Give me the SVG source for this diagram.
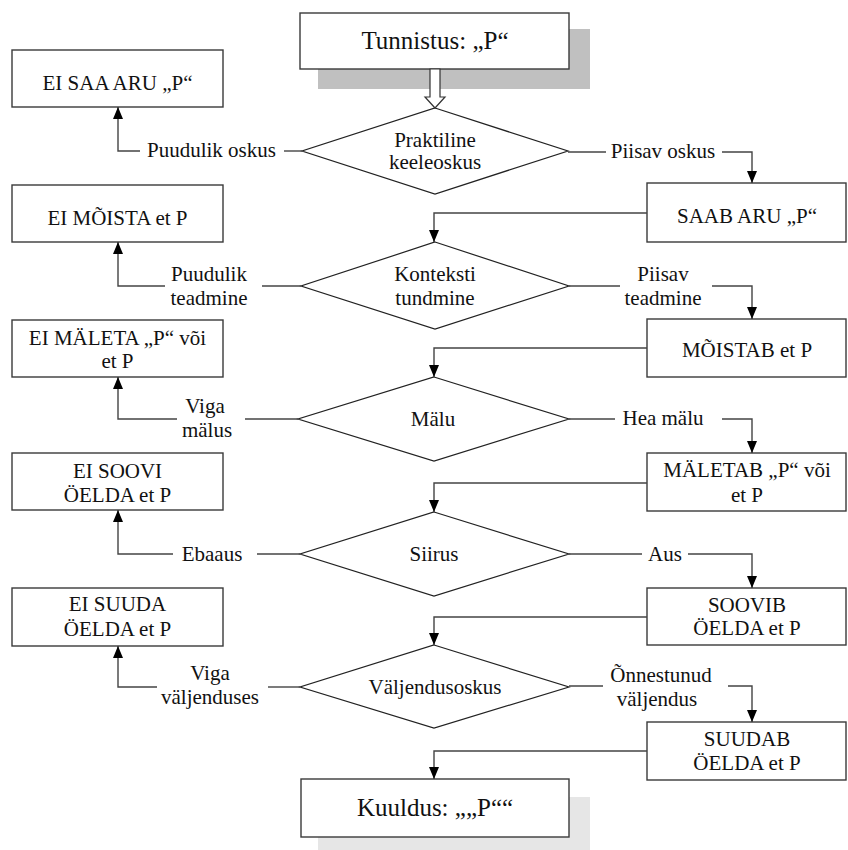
<svg xmlns="http://www.w3.org/2000/svg" width="848" height="850" viewBox="0 0 848 850">
<defs>
<style>
.box{fill:#fff;stroke:#3a3a3a;stroke-width:1.4}
.dia{fill:#fff;stroke:#222;stroke-width:1.2}
.ln{fill:none;stroke:#444;stroke-width:1.4}
text{font-size:21px;fill:#111;text-anchor:middle}
.big{font-size:25px}
</style>
<marker id="ah" markerUnits="userSpaceOnUse" markerWidth="12" markerHeight="12" viewBox="0 0 12 12" refX="12" refY="6" orient="auto">
<path d="M0,1 L12,6 L0,11 z" fill="#000"/>
</marker>
</defs>
<rect width="848" height="850" fill="#fff"/>
<g font-family="'Liberation Serif', 'DejaVu Serif', serif">

<g id="start">
<rect x="318" y="29" width="272" height="60" fill="#c0c0c0"/>
<rect class="box" x="300" y="13" width="269" height="56"/>
<text class="big" x="435" y="49">Tunnistus: „P“</text>
</g>

<g id="end">
<rect x="318" y="797" width="272" height="53" fill="#e6e6e6"/>
<rect class="box" x="301" y="779" width="268" height="58"/>
<text class="big" x="435" y="816">Kuuldus: „„P““</text>
</g>

<g id="d1">
<polygon class="dia" points="435,108 568,151 435,194 302,151"/>
<text x="435" y="147">Praktiline</text>
<text x="435" y="169">keeleoskus</text>
</g>
<g id="d2">
<polygon class="dia" points="435,242 569,286 435,329 301,286"/>
<text x="435" y="281">Konteksti</text>
<text x="435" y="305">tundmine</text>
</g>
<g id="d3">
<polygon class="dia" points="434,377 569,419 434,461 298,419"/>
<text x="433" y="426">Mälu</text>
</g>
<g id="d4">
<polygon class="dia" points="434,512 569,554 434,596 300,554"/>
<text x="434" y="561">Siirus</text>
</g>
<g id="d5">
<polygon class="dia" points="434,645 569,687 434,728 300,687"/>
<text x="435" y="694">Väljendusoskus</text>
</g>

<g id="l1"><rect class="box" x="12" y="50" width="211" height="57"/><text x="117.5" y="90">EI SAA ARU „P“</text></g>
<g id="l2"><rect class="box" x="12" y="185" width="211" height="57"/><text x="117.5" y="225">EI MÕISTA et P</text></g>
<g id="l3"><rect class="box" x="12" y="320" width="211" height="57"/><text x="117.5" y="345">EI MÄLETA „P“ või</text><text x="117.5" y="368">et P</text></g>
<g id="l4"><rect class="box" x="12" y="453" width="211" height="57"/><text x="117.5" y="478">EI SOOVI</text><text x="117.5" y="502">ÖELDA et P</text></g>
<g id="l5"><rect class="box" x="12" y="588" width="211" height="58"/><text x="117.5" y="611">EI SUUDA</text><text x="117.5" y="636">ÖELDA et P</text></g>

<g id="r1"><rect class="box" x="647" y="183" width="199" height="59"/><text x="747" y="223">SAAB ARU „P“</text></g>
<g id="r2"><rect class="box" x="647" y="319" width="199" height="58"/><text x="747" y="357">MÕISTAB et P</text></g>
<g id="r3"><rect class="box" x="647" y="453" width="199" height="58"/><text x="747" y="477">MÄLETAB „P“ või</text><text x="747" y="502">et P</text></g>
<g id="r4"><rect class="box" x="647" y="588" width="199" height="57"/><text x="747" y="612">SOOVIB</text><text x="747" y="635">ÖELDA et P</text></g>
<g id="r5"><rect class="box" x="647" y="722" width="199" height="58"/><text x="747" y="746">SUUDAB</text><text x="747" y="770">ÖELDA et P</text></g>

<g id="connectors">
<polygon points="430,69 440,69 440,97 445,97 435,108 425,97 430,97" fill="#fff" stroke="#333" stroke-width="1.2"/>

<polyline class="ln" points="647,213 434,213 434,242" marker-end="url(#ah)"/>
<polyline class="ln" points="647,348 434,348 434,377" marker-end="url(#ah)"/>
<polyline class="ln" points="647,483 434,483 434,512" marker-end="url(#ah)"/>
<polyline class="ln" points="647,617 434,617 434,645" marker-end="url(#ah)"/>
<polyline class="ln" points="647,751 434,751 434,779" marker-end="url(#ah)"/>

<line class="ln" x1="568" y1="152" x2="606" y2="152"/>
<polyline class="ln" points="722,152 752,152 752,183" marker-end="url(#ah)"/>
<text x="663" y="158">Piisav oskus</text>

<line class="ln" x1="569" y1="286" x2="620" y2="286"/>
<polyline class="ln" points="712,286 752,286 752,319" marker-end="url(#ah)"/>
<text x="663" y="281">Piisav</text>
<text x="663" y="305">teadmine</text>

<line class="ln" x1="569" y1="419" x2="615" y2="419"/>
<polyline class="ln" points="722,419 752,419 752,453" marker-end="url(#ah)"/>
<text x="663" y="425">Hea mälu</text>

<line class="ln" x1="569" y1="554" x2="642" y2="554"/>
<polyline class="ln" points="688,554 752,554 752,588" marker-end="url(#ah)"/>
<text x="665" y="561">Aus</text>

<line class="ln" x1="569" y1="686" x2="603" y2="686"/>
<polyline class="ln" points="728,686 752,686 752,722" marker-end="url(#ah)"/>
<text x="661" y="682">Õnnestunud</text>
<text x="657" y="706">väljendus</text>

<line class="ln" x1="302" y1="151" x2="284" y2="151"/>
<polyline class="ln" points="140,151 118,151 118,107" marker-end="url(#ah)"/>
<text x="211.5" y="157">Puudulik oskus</text>

<line class="ln" x1="301" y1="286" x2="262" y2="286"/>
<polyline class="ln" points="165,286 118,286 118,242" marker-end="url(#ah)"/>
<text x="209" y="281">Puudulik</text>
<text x="209" y="305">teadmine</text>

<line class="ln" x1="298" y1="419" x2="245" y2="419"/>
<polyline class="ln" points="177,419 118,419 118,377" marker-end="url(#ah)"/>
<text x="205" y="413">Viga</text>
<text x="207" y="437">mälus</text>

<line class="ln" x1="300" y1="554" x2="257" y2="554"/>
<polyline class="ln" points="173,554 118,554 118,510" marker-end="url(#ah)"/>
<text x="212" y="561">Ebaaus</text>

<line class="ln" x1="300" y1="687" x2="268" y2="687"/>
<polyline class="ln" points="157,687 118,687 118,646" marker-end="url(#ah)"/>
<text x="210" y="680">Viga</text>
<text x="210" y="704">väljenduses</text>
</g>
</g>
</svg>
